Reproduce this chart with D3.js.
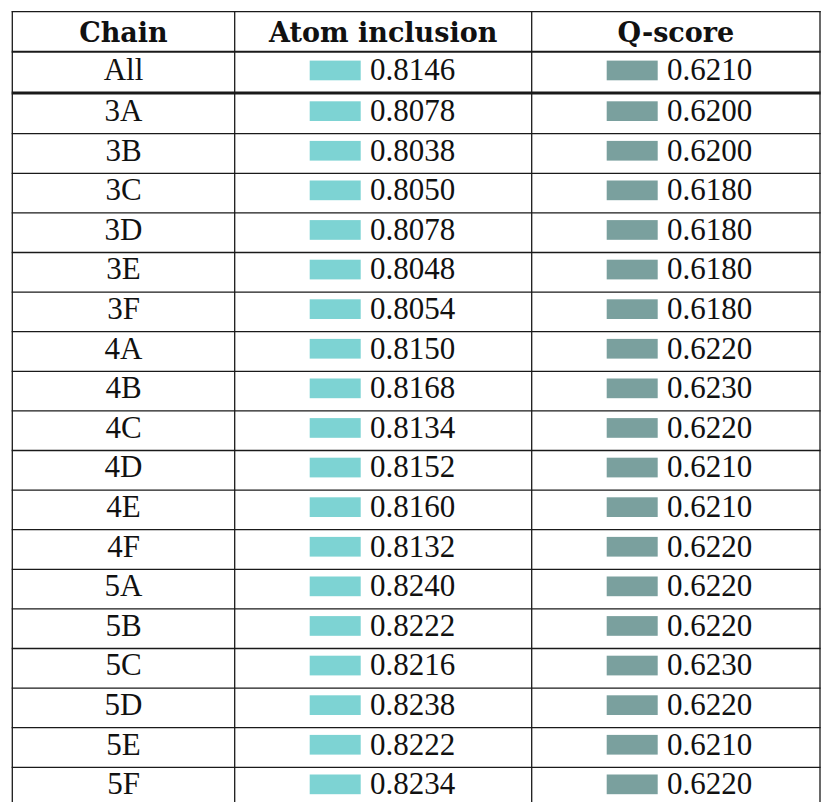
<!DOCTYPE html>
<html>
<head>
<meta charset="utf-8">
<script src="https://cdn.jsdelivr.net/npm/d3@7"></script>
<style>
  html, body { margin: 0; padding: 0; background: #fff; }
  svg { display: block; }
</style>
</head>
<body>
<script>
// ---- data ----
const headers = ["Chain", "Atom inclusion", "Q-score"];
const summaryLabel = "All";
const summaryAtom = 0.8146;
const summaryQ = 0.6210;
const chains = ["3A","3B","3C","3D","3E","3F","4A","4B","4C","4D","4E","4F","5A","5B","5C","5D","5E","5F"];
const atomInclusion = [0.8078,0.8038,0.8050,0.8078,0.8048,0.8054,0.8150,0.8168,0.8134,0.8152,0.8160,0.8132,0.8240,0.8222,0.8216,0.8238,0.8222,0.8234];
const qScore = [0.6200,0.6200,0.6180,0.6180,0.6180,0.6180,0.6220,0.6230,0.6220,0.6210,0.6210,0.6220,0.6220,0.6220,0.6230,0.6220,0.6210,0.6220];

// ---- layout ----
const W = 822, H = 802;
const svg = d3.select("body").append("svg").attr("width", W).attr("height", H);
svg.append("rect").attr("width", W).attr("height", H).attr("fill", "#fff");

const colEdges = [12.3, 234.7, 531.7, 820];
const tableTop = 11.7, headerBottom = 51.7, summaryBottom = 93;
const rowH = 39.6;
const y = d3.scaleBand().domain(chains).range([94.1, 94.1 + chains.length * rowH]).padding(0);

const fmt = d3.format(".4f");
const atomColor = "#7dd3d3";
const qColor = "#7aa09e";
const swatchW = 51, swatchH = 19.7;
const lineColor = "#1a1a1a";
const bodyFont = "'Liberation Serif', 'Times New Roman', serif";
const headFont = "'DejaVu Serif', serif";

const rows = [{label: summaryLabel, atom: summaryAtom, q: summaryQ, top: headerBottom, bottom: summaryBottom}]
  .concat(chains.map((c, i) => ({label: c, atom: atomInclusion[i], q: qScore[i], top: y(c), bottom: y(c) + y.bandwidth()})));

// header text
const headerBaseline = 41.7;
svg.selectAll("text.head").data(headers).enter().append("text")
  .attr("class", "head")
  .attr("x", (d, i) => (colEdges[i] + colEdges[i + 1]) / 2)
  .attr("y", headerBaseline)
  .attr("text-anchor", "middle")
  .attr("font-family", headFont)
  .attr("font-weight", "bold")
  .attr("font-size", 27)
  .attr("fill", "#111")
  .text(d => d);

// body rows
const g = svg.selectAll("g.row").data(rows).enter().append("g").attr("class", "row");
const baseOf = d => d.bottom - 12.7;

g.append("text")
  .attr("x", (colEdges[0] + colEdges[1]) / 2)
  .attr("y", baseOf)
  .attr("text-anchor", "middle")
  .attr("font-family", bodyFont)
  .attr("font-size", 31)
  .attr("fill", "#111")
  .text(d => d.label);

[{key: "atom", col: 1, color: atomColor}, {key: "q", col: 2, color: qColor}].forEach(c => {
  g.append("rect")
    .attr("x", colEdges[c.col] + 75)
    .attr("y", d => baseOf(d) - swatchH)
    .attr("width", swatchW)
    .attr("height", swatchH)
    .attr("fill", c.color);
  g.append("text")
    .attr("x", colEdges[c.col] + 135.3)
    .attr("y", baseOf)
    .attr("font-family", bodyFont)
    .attr("font-size", 31)
    .attr("fill", "#111")
    .text(d => fmt(d[c.key]));
});

// grid lines
const hLines = [{y: tableTop, w: 1.2}, {y: headerBottom, w: 2}, {y: summaryBottom, w: 3}]
  .concat(chains.map(c => ({y: y(c) + y.bandwidth(), w: 1.3})));
svg.selectAll("line.h").data(hLines).enter().append("line")
  .attr("x1", colEdges[0] - 0.6).attr("x2", colEdges[3] + 0.6)
  .attr("y1", d => d.y).attr("y2", d => d.y)
  .attr("stroke", lineColor).attr("stroke-width", d => d.w);
svg.selectAll("line.v").data(colEdges).enter().append("line")
  .attr("x1", d => d).attr("x2", d => d)
  .attr("y1", tableTop - 0.6).attr("y2", H)
  .attr("stroke", lineColor).attr("stroke-width", 1.3);
</script>
</body>
</html>
